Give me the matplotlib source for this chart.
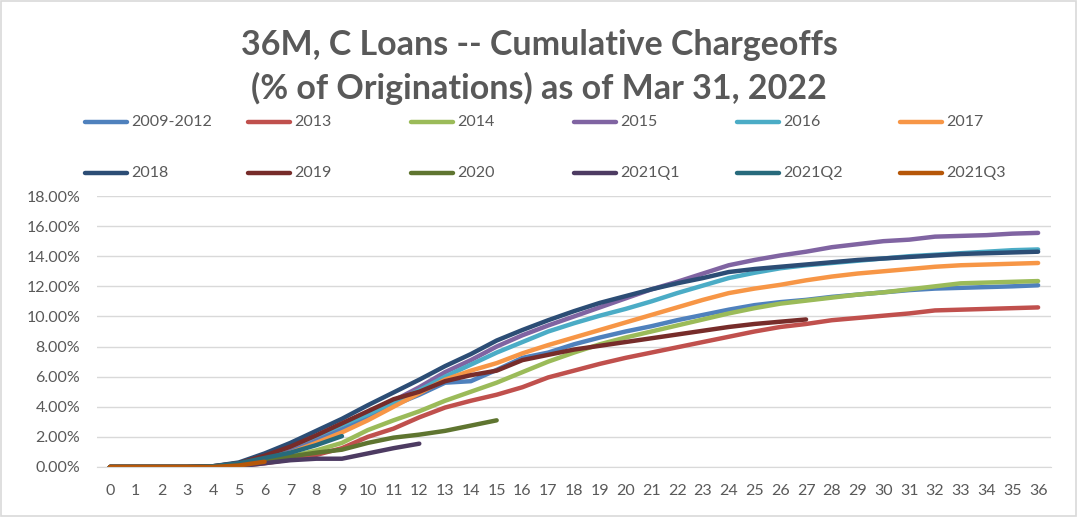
import matplotlib.pyplot as plt
from matplotlib.lines import Line2D
from matplotlib.patches import Rectangle
from matplotlib.ticker import PercentFormatter

# months on book
months = list(range(37))

# cumulative chargeoffs, % of originations, by vintage
v_2009_2012 = [0, 0, 0, 0, 0.02, 0.2, 0.6, 1.1, 1.75, 2.5, 3.3, 4.1, 4.8, 5.6, 5.7, 6.45,
               7.25, 7.6, 8.15, 8.6, 9.0, 9.35, 9.75, 10.1, 10.45, 10.75, 10.95, 11.1, 11.3,
               11.45, 11.6, 11.75, 11.85, 11.9, 11.95, 12.0, 12.07]
v_2013 = [0, 0, 0, 0, 0, 0.05, 0.25, 0.5, 0.8, 1.25, 2.0, 2.55, 3.3, 3.95, 4.4, 4.8,
          5.3, 5.95, 6.4, 6.85, 7.25, 7.6, 7.95, 8.3, 8.65, 9.0, 9.3, 9.5, 9.75,
          9.9, 10.05, 10.2, 10.4, 10.45, 10.5, 10.55, 10.6]
v_2014 = [0, 0, 0, 0, 0, 0.1, 0.35, 0.7, 1.1, 1.6, 2.45, 3.1, 3.7, 4.4, 5.0, 5.6,
          6.3, 7.0, 7.6, 8.15, 8.6, 9.0, 9.4, 9.8, 10.2, 10.55, 10.85, 11.05, 11.25,
          11.45, 11.6, 11.8, 12.0, 12.2, 12.25, 12.3, 12.35]
v_2015 = [0, 0, 0, 0, 0.02, 0.2, 0.7, 1.3, 2.0, 2.8, 3.6, 4.4, 5.3, 6.3, 7.1, 8.0,
          8.75, 9.4, 10.0, 10.6, 11.2, 11.8, 12.3, 12.85, 13.4, 13.75, 14.05, 14.3, 14.6,
          14.8, 15.0, 15.1, 15.3, 15.35, 15.4, 15.5, 15.55]
v_2016 = [0, 0, 0, 0, 0.02, 0.25, 0.75, 1.35, 2.05, 2.8, 3.5, 4.3, 5.1, 6.0, 6.8, 7.6,
          8.3, 9.0, 9.55, 10.05, 10.5, 11.0, 11.55, 12.05, 12.55, 12.9, 13.2, 13.4, 13.55,
          13.7, 13.85, 14.0, 14.1, 14.2, 14.3, 14.4, 14.45]
v_2017 = [0, 0, 0, 0, 0.02, 0.15, 0.5, 0.95, 1.6, 2.3, 3.1, 4.0, 4.9, 5.8, 6.4, 6.9,
          7.55, 8.1, 8.6, 9.1, 9.6, 10.1, 10.6, 11.1, 11.55, 11.85, 12.1, 12.4, 12.65,
          12.85, 13.0, 13.15, 13.3, 13.4, 13.45, 13.5, 13.55]
v_2018 = [0, 0, 0, 0, 0.05, 0.3, 0.9, 1.6, 2.4, 3.2, 4.1, 4.95, 5.8, 6.7, 7.5, 8.4,
          9.1, 9.75, 10.35, 10.9, 11.35, 11.8, 12.2, 12.55, 12.95, 13.15, 13.3, 13.45, 13.6,
          13.75, 13.85, 13.95, 14.05, 14.15, 14.2, 14.25, 14.3]
v_2019 = [0, 0, 0, 0, 0.05, 0.25, 0.75, 1.35, 2.1, 2.9, 3.7, 4.5, 5.0, 5.7, 6.1, 6.4,
          7.1, 7.45, 7.8, 8.05, 8.3, 8.55, 8.8, 9.05, 9.3, 9.5, 9.65, 9.8]
v_2020 = [0, 0, 0, 0, 0, 0.1, 0.35, 0.7, 0.95, 1.15, 1.6, 1.95, 2.15, 2.4, 2.75, 3.1]
v_2021q1 = [0, 0, 0, 0, 0, 0.05, 0.25, 0.45, 0.55, 0.55, 0.9, 1.25, 1.55]
v_2021q2 = [0, 0, 0, 0, 0.05, 0.25, 0.6, 0.95, 1.45, 2.05]
v_2021q3 = [0, 0, 0, 0, 0, 0.1, 0.35]

labels = ['2009-2012', '2013', '2014', '2015', '2016', '2017',
          '2018', '2019', '2020', '2021Q1', '2021Q2', '2021Q3']
series = [v_2009_2012, v_2013, v_2014, v_2015, v_2016, v_2017,
          v_2018, v_2019, v_2020, v_2021q1, v_2021q2, v_2021q3]
colors = ['#4F81BD', '#C0504D', '#9BBB59', '#8064A2', '#4BACC6', '#F79646',
          '#2C4D75', '#772C2A', '#5F7530', '#4D3B62', '#276A7C', '#B65708']

plt.rcParams['font.family'] = ['Lato', 'DejaVu Sans']
gray = '#595959'

fig = plt.figure(figsize=(10.78, 5.17), dpi=100)
ax = fig.add_axes([97 / 1078, 50 / 517, 954 / 1078, 271 / 517])

for vals, c in zip(series, colors):
    ax.plot(months[:len(vals)], vals, color=c, lw=3.2, solid_capstyle='round',
            solid_joinstyle='round')

ax.set_xlim(-0.5, 36.5)
ax.set_ylim(0, 18)
ax.set_xticks(months)
ax.set_yticks(range(0, 19, 2))
ax.yaxis.set_major_formatter(PercentFormatter(decimals=2))
ax.grid(axis='y', color='#D9D9D9', lw=1)
ax.set_axisbelow(True)
for s in ['top', 'right', 'left']:
    ax.spines[s].set_visible(False)
ax.spines['bottom'].set_color('#D9D9D9')
ax.tick_params(length=0, labelsize=11.5, labelcolor=gray)
ax.tick_params(axis='x', pad=12)
ax.tick_params(axis='y', pad=12)

fig.text(0.5, 1 - 45 / 517, '36M, C Loans -- Cumulative Chargeoffs',
         ha='center', va='center', fontsize=24.5, fontweight='bold', color=gray)
fig.text(0.5, 1 - 88 / 517, '(% of Originations) as of Mar 31, 2022',
         ha='center', va='center', fontsize=24.5, fontweight='bold', color=gray)

# legend, 2 rows x 6 columns
for i, (lab, c) in enumerate(zip(labels, colors)):
    row, col = divmod(i, 6)
    x0 = (85 + 163 * col) / 1078
    y0 = 1 - (122 + 51 * row) / 517
    fig.add_artist(Line2D([x0, x0 + 42 / 1078], [y0, y0], color=c, lw=3.2,
                          solid_capstyle='round'))
    fig.text(x0 + 46 / 1078, y0, lab, ha='left', va='center', fontsize=11.5, color=gray)

fig.add_artist(Rectangle((0.001, 0.001), 0.997, 0.997, transform=fig.transFigure,
                         fill=False, edgecolor='#D9D9D9', lw=1.2))

fig.savefig('out.png', dpi=100)
